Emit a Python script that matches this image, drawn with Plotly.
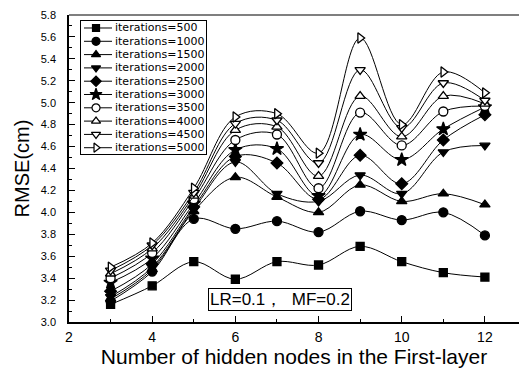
import plotly.graph_objects as go

# ---- data ----
hidden_nodes = [3, 4, 5, 6, 7, 8, 9, 10, 11, 12]
series_names = ["iterations=500", "iterations=1000", "iterations=1500", "iterations=2000",
                "iterations=2500", "iterations=3000", "iterations=3500", "iterations=4000",
                "iterations=4500", "iterations=5000"]
rmse_500 = [3.16, 3.33, 3.55, 3.39, 3.55, 3.52, 3.69, 3.55, 3.45, 3.41]
rmse_1000 = [3.19, 3.46, 3.94, 3.85, 3.92, 3.82, 4.01, 3.93, 4.00, 3.79]
rmse_1500 = [3.21, 3.48, 4.01, 4.32, 4.14, 4.00, 4.25, 4.10, 4.17, 4.07]
rmse_2000 = [3.23, 3.50, 4.03, 4.46, 4.17, 4.10, 4.34, 4.17, 4.55, 4.61]
rmse_2500 = [3.28, 3.53, 4.05, 4.51, 4.45, 4.12, 4.52, 4.26, 4.66, 4.89]
rmse_3000 = [3.36, 3.58, 4.08, 4.57, 4.58, 4.15, 4.71, 4.48, 4.76, 4.96]
rmse_3500 = [3.40, 3.63, 4.12, 4.66, 4.71, 4.22, 4.91, 4.61, 4.92, 4.97]
rmse_4000 = [3.44, 3.67, 4.15, 4.75, 4.78, 4.33, 5.06, 4.69, 5.06, 4.99]
rmse_4500 = [3.47, 3.70, 4.18, 4.81, 4.84, 4.45, 5.30, 4.77, 5.18, 5.02]
rmse_5000 = [3.50, 3.72, 4.22, 4.87, 4.90, 4.54, 5.59, 4.80, 5.28, 5.09]
all_series = [rmse_500, rmse_1000, rmse_1500, rmse_2000, rmse_2500,
              rmse_3000, rmse_3500, rmse_4000, rmse_4500, rmse_5000]
annotation_text = "LR=0.1，  MF=0.2"

# ---- styles ----
symbols = ["square", "circle", "triangle-up", "triangle-down", "diamond",
           "star", "circle", "triangle-up", "triangle-down", "triangle-right"]
fills = ["black"] * 6 + ["white"] * 4
sizes = [8, 9, 9, 9, 9, 10, 9, 9, 9, 9]
FONT = "Liberation Sans, Arial, sans-serif"
LEGEND_FONT = "DejaVu Sans, Liberation Sans, sans-serif"

fig = go.Figure()
for name, vals, sym, fc, sz in zip(series_names, all_series, symbols, fills, sizes):
    fig.add_trace(go.Scatter(
        x=hidden_nodes, y=vals, name=name, mode="lines+markers",
        line=dict(color="black", width=1, shape="spline", smoothing=1.0),
        marker=dict(symbol=sym, size=sz, color=fc, line=dict(color="black", width=1.3)),
        showlegend=False, xaxis="x", yaxis="y"))

# ---- custom legend on an inset axis (rows follow series order) ----
row_gap = 13.3
for i, (name, sym, fc, sz) in enumerate(zip(series_names, symbols, fills, sizes)):
    yrow = 7 + row_gap * i
    fig.add_trace(go.Scatter(
        x=[3, 31], y=[yrow, yrow], mode="lines", line=dict(color="black", width=1),
        showlegend=False, hoverinfo="skip", xaxis="x2", yaxis="y2"))
    fig.add_trace(go.Scatter(
        x=[15], y=[yrow], mode="markers",
        marker=dict(symbol=sym, size=sz - 1, color=fc, line=dict(color="black", width=1.2)),
        showlegend=False, hoverinfo="skip", xaxis="x2", yaxis="y2"))
    fig.add_annotation(x=33, y=yrow, xref="x2", yref="y2", text=name, showarrow=False,
                       xanchor="left", yanchor="middle", borderpad=0,
                       font=dict(family=LEGEND_FONT, size=11, color="black"))

fig.update_layout(
    width=519, height=370,
    margin=dict(l=69, r=0, t=15, b=48),
    plot_bgcolor="white", paper_bgcolor="white",
    font=dict(family=FONT, color="black"),
    xaxis=dict(range=[2, 12.82], tickmode="linear", tick0=2, dtick=2,
               ticks="inside", ticklen=6, tickwidth=1, tickcolor="black",
               minor=dict(ticks="inside", ticklen=3, dtick=1, tickcolor="black"),
               showline=True, linecolor="black", linewidth=1.5, showgrid=False, zeroline=False,
               tickfont=dict(size=14), ticklabelstandoff=1,
               title=dict(text="Number of hidden nodes in the First-layer",
                          font=dict(size=21), standoff=5)),
    yaxis=dict(range=[3.0, 5.8], tickmode="linear", tick0=3.0, dtick=0.2, tickformat=".1f",
               ticks="inside", ticklen=6, tickwidth=1, tickcolor="black",
               minor=dict(ticks="inside", ticklen=3, dtick=0.1, tickcolor="black"),
               showline=True, linecolor="black", linewidth=1.5, showgrid=False, zeroline=False,
               tickfont=dict(size=11), ticklabelstandoff=9,
               title=dict(text="RMSE(cm)", font=dict(size=20), standoff=6)),
    xaxis2=dict(domain=[0.0267, 0.3044], range=[0, 125], anchor="y2",
                showline=True, mirror=True, linecolor="black", linewidth=1,
                showticklabels=False, ticks="", showgrid=False, zeroline=False, fixedrange=True),
    yaxis2=dict(domain=[0.5472, 0.9805], range=[133, 0], anchor="x2",
                showline=True, mirror=True, linecolor="black", linewidth=1,
                showticklabels=False, ticks="", showgrid=False, zeroline=False, fixedrange=True),
)

# top frame line
fig.add_shape(type="line", xref="paper", yref="paper", x0=0, x1=1, y0=1, y1=1,
              line=dict(color="#555555", width=1.5))

fig.add_annotation(x=0.469, y=0.073, xref="paper", yref="paper", text=annotation_text,
                   showarrow=False, xanchor="center", yanchor="middle",
                   font=dict(family=FONT, size=17, color="black"),
                   bordercolor="black", borderwidth=1, borderpad=1, bgcolor="white")

fig.write_html("out.html")
